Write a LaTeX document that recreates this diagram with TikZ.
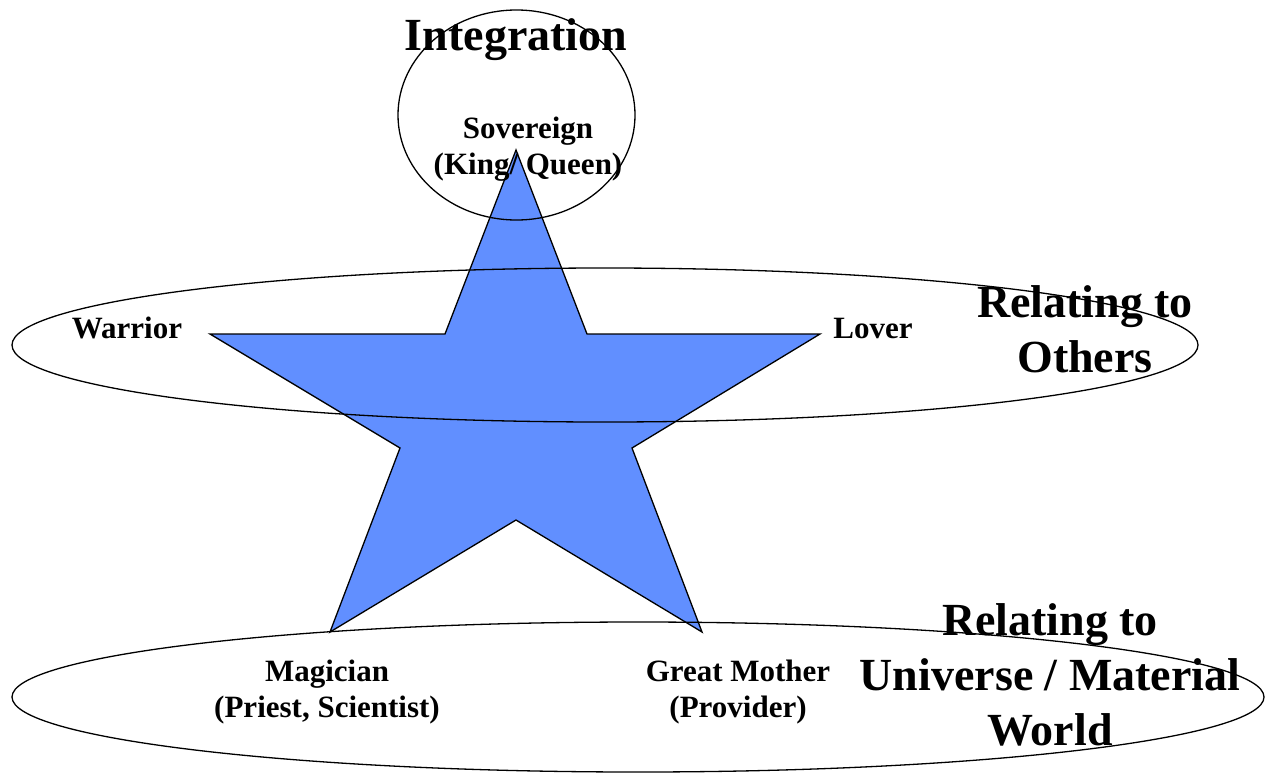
\documentclass[tikz,border=0pt]{standalone}
\usepackage{fontspec}
\setmainfont{Liberation Serif}
\definecolor{starblue}{RGB}{97,143,255}
\begin{document}
\begin{tikzpicture}[x=1pt,y=-1pt,
  lbl/.style={font=\bfseries\fontsize{31}{36}\selectfont, align=center, anchor=base, inner sep=0pt},
  big/.style={font=\bfseries\fontsize{46}{55}\selectfont, align=center, anchor=base, inner sep=0pt},
  ring/.style={draw, line width=1.3pt}]
\useasboundingbox (0,0) rectangle (1268,772);

% the star
\draw[fill=starblue, line width=1.3pt, line join=miter]
  (516,150) -- (587,334) -- (820,334) -- (632,448) -- (702,632) -- (516,520)
  -- (330,632) -- (400,448) -- (210,334) -- (445,334) -- cycle;

% the rings
\draw[ring] (516.5,115) ellipse (118.5 and 105);
\draw[ring] (605,345) ellipse (593 and 77);
\draw[ring] (638,697) ellipse (626 and 75);

% labels (base = baseline of the last line)
\node[big] (integ) at (516,50) {Integration};
\node[lbl] (sov) at (528,174) {Sovereign\\(King/ Queen)};
\node[lbl] (war) at (127,338) {Warrior};
\node[lbl] (lov) at (873,338) {Lover};
\node[big] (others) at (1085,372) {Relating to\\Others};
\node[lbl] (mag) at (327,717) {Magician\\(Priest, Scientist)};
\node[lbl] (mother) at (738,717) {Great Mother\\(Provider)};
\node[big] (world) at (1050,745) {Relating to\\Universe / Material\\World};
\end{tikzpicture}
\end{document}
